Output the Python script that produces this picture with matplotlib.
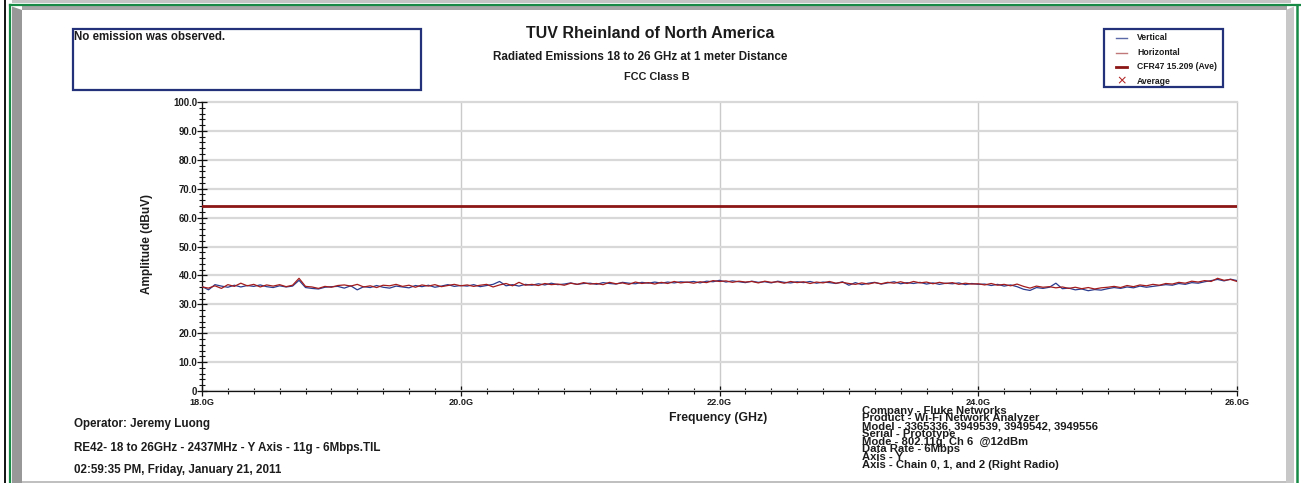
import numpy as np
import matplotlib
matplotlib.use("Agg")
import matplotlib.pyplot as plt
from matplotlib.patches import Rectangle, Polygon
from matplotlib.lines import Line2D
from matplotlib.ticker import MultipleLocator, FixedLocator

plt.rcParams['font.family'] = ['Liberation Sans', 'DejaVu Sans']

# ---------------- data ----------------
freq_start, freq_stop, n_points = 18.0, 26.0, 161
freq_ghz = np.linspace(freq_start, freq_stop, n_points)

horizontal_dbuv = [
    36.0, 35.6, 36.4, 35.5, 36.8, 36.2, 37.3, 36.4, 36.9, 36.0, 36.7,
    36.3, 36.8, 36.1, 36.6, 39.0, 36.2, 36.0, 35.5, 36.2, 35.9,
    36.5, 36.7, 36.3, 36.9, 36.0, 36.4, 35.8, 36.6, 36.4, 36.9,
    36.2, 36.6, 35.9, 36.7, 36.3, 36.8, 36.1, 36.5, 36.9, 36.4,
    36.7, 36.2, 36.6, 36.9, 36.0, 36.7, 37.2, 36.4, 37.6, 36.6,
    36.9, 36.5, 37.2, 36.8, 37.0, 36.6, 37.3, 36.9, 37.5, 37.0,
    37.2, 36.8, 37.6, 37.1, 37.4, 36.9, 37.7, 37.2, 37.5, 37.0,
    37.6, 37.2, 37.9, 37.4, 37.7, 37.3, 37.8, 37.5, 38.2, 37.9,
    38.1, 37.6, 38.0, 37.7, 37.9, 37.4, 38.0, 37.6, 37.8, 37.3,
    37.9, 37.5, 37.8, 37.2, 37.7, 37.4, 37.9, 37.3, 37.6, 37.2,
    36.9, 37.4, 37.0, 37.5, 37.1, 37.6, 37.3, 37.8, 37.2, 37.9,
    37.4, 37.7, 37.1, 37.6, 37.2, 37.5, 36.9, 37.3, 37.0, 37.1,
    36.7, 37.2, 36.6, 36.9, 36.4, 37.0, 36.2, 35.6, 36.3, 35.9,
    36.1, 35.7, 36.0, 35.5, 35.9, 35.4, 35.8, 35.3, 35.7, 35.9,
    36.2, 35.8, 36.5, 36.1, 36.7, 36.4, 36.9, 36.6, 37.2, 37.0,
    37.6, 37.3, 38.0, 37.7, 38.2, 37.9, 39.0, 38.3, 38.6, 37.9,
]

vertical_dbuv = [
    36.2, 35.0, 36.8, 36.3, 35.9, 36.6, 36.0, 36.5, 36.2, 36.7, 36.1,
    35.8, 36.4, 36.0, 36.3, 38.3, 35.8, 35.5, 35.3, 35.9, 36.1,
    36.2, 35.6, 36.4, 35.0, 36.1, 35.8, 36.5, 35.9, 35.6, 36.3,
    36.0, 35.7, 36.5, 36.1, 36.6, 35.9, 36.3, 36.8, 36.2, 36.5,
    36.3, 36.8, 36.1, 36.5, 36.9, 37.9, 36.4, 36.8, 36.3, 36.9,
    36.6, 37.1, 36.7, 37.3, 36.8, 37.0, 37.4, 36.9, 37.2, 37.3,
    36.9, 37.5, 37.2, 37.0, 37.6, 37.3, 37.1, 37.6, 37.3, 37.7,
    37.3, 37.7, 37.4, 37.8, 37.6, 37.9, 37.4, 38.0, 37.8, 38.3,
    37.7, 38.1, 37.8, 37.5, 38.0, 37.6, 37.8, 37.4, 38.0, 37.6,
    37.4, 37.8, 37.5, 37.9, 37.3, 37.7, 37.5, 37.2, 37.8, 36.6,
    37.5, 36.8, 37.3, 37.6, 37.0, 37.4, 37.8, 37.1, 37.5, 37.2,
    37.6, 37.0, 37.4, 36.9, 37.3, 37.1, 37.4, 36.8, 37.2, 36.9,
    37.0, 36.5, 36.9, 36.3, 36.7, 36.1, 35.2, 34.8, 35.8, 35.5,
    35.9, 37.3, 35.4, 35.6, 35.0, 35.3, 34.7, 35.1, 34.9, 35.4,
    35.8, 35.5, 36.0, 35.7, 36.3, 35.9, 36.2, 36.5, 36.8, 36.6,
    37.2, 36.9, 37.5, 37.3, 37.8, 38.2, 38.6, 38.1, 38.7, 38.2,
]

limit_label = "CFR47 15.209 (Ave)"
limit_dbuv = 64.0

y_ticks = [0, 10, 20, 30, 40, 50, 60, 70, 80, 90, 100]
y_tick_labels = ["0", "10.0", "20.0", "30.0", "40.0", "50.0", "60.0",
                 "70.0", "80.0", "90.0", "100.0"]
x_ticks = [18, 20, 22, 24, 26]
x_tick_labels = ["18.0G", "20.0G", "22.0G", "24.0G", "26.0G"]

title = "TUV Rheinland of North America"
subtitle = "Radiated Emissions 18 to 26 GHz at 1 meter Distance"
subtitle2 = "FCC Class B"
note = "No emission was observed."
legend_labels = ["Vertical", "Horizontal", limit_label, "Average"]
footer_left = ["Operator: Jeremy Luong",
               "RE42- 18 to 26GHz - 2437MHz - Y Axis - 11g - 6Mbps.TIL",
               "02:59:35 PM, Friday, January 21, 2011"]
footer_right = ["Company - Fluke Networks",
                "Product - Wi-Fi Network Analyzer",
                "Model - 3365336, 3949539, 3949542, 3949556",
                "Serial - Prototype",
                "Mode - 802.11g, Ch 6  @12dBm",
                "Data Rate - 6Mbps",
                "Axis - Y",
                "Axis - Chain 0, 1, and 2 (Right Radio)"]

# ---------------- figure ----------------
W, H = 1301, 483
fig = plt.figure(figsize=(W / 100, H / 100), dpi=100)
fig.patch.set_facecolor("white")

def fx(x):
    return x / W

def fy(y):
    return 1 - y / H

def rect_px(x0, y0, x1, y1, **kw):
    r = Rectangle((fx(x0), fy(y1)), (x1 - x0) / W, (y1 - y0) / H,
                  transform=fig.transFigure, **kw)
    fig.add_artist(r)
    return r

def line_px(xs, ys, **kw):
    l = Line2D([fx(x) for x in xs], [fy(y) for y in ys],
               transform=fig.transFigure, **kw)
    fig.add_artist(l)

GREEN = "#178a45"
# frame
rect_px(12, 0, 1291, 2.5, facecolor="#c4c4c4", edgecolor="none")
rect_px(22, 6.5, 1287, 10, facecolor="#a6a6a6", edgecolor="none")
fig.add_artist(Polygon([(fx(12), fy(6.5)), (fx(22), fy(10)), (fx(22), fy(483)),
                        (fx(12), fy(483))], closed=True, transform=fig.transFigure,
                       facecolor="#989898", edgecolor="none"))
fig.add_artist(Polygon([(fx(1286), fy(10)), (fx(1294), fy(6.5)), (fx(1294), fy(483)),
                        (fx(1286), fy(483))], closed=True, transform=fig.transFigure,
                       facecolor="#c8c8c8", edgecolor="none"))
rect_px(22, 480.5, 1286, 483, facecolor="#c0c0c0", edgecolor="none")
line_px([10, 1301], [4.8, 4.8], color=GREEN, lw=1.6)
line_px([10.2, 10.2], [4.8, 483], color=GREEN, lw=1.6)
line_px([1296.5, 1296.5], [4.8, 483], color=GREEN, lw=1.8)
line_px([4.5, 4.5], [0, 483], color="black", lw=1.3)

TXT = "#1c1c1c"
NAVY = "#23307a"

# titles
fig.text(fx(650), fy(34), title, ha="center", va="center", fontsize=11.5,
         fontweight="bold", color=TXT)
fig.text(fx(640), fy(57.5), subtitle, ha="center", va="center", fontsize=8.4,
         fontweight="bold", color=TXT)
fig.text(fx(657), fy(76.5), subtitle2, ha="center", va="center", fontsize=7.8,
         fontweight="bold", color=TXT)

# note box
rect_px(73, 29.5, 421, 90, facecolor="white", edgecolor=NAVY, lw=1.6)
fig.text(fx(74), fy(37.5), note, ha="left", va="center", fontsize=8.3,
         fontweight="bold", color=TXT)

# legend box
rect_px(1104, 29.5, 1223, 87, facecolor="white", edgecolor=NAVY, lw=1.6)
leg_y = [37.5, 52.5, 66.5, 81]
BLUE = "#2b3c8f"
RED = "#a41c1c"
LIMIT = "#8c1616"
line_px([1116, 1127], [leg_y[0]] * 2, color="#5a6aa8", lw=1.0)
line_px([1116, 1127], [leg_y[1]] * 2, color="#c07878", lw=1.0)
line_px([1116, 1127], [leg_y[2]] * 2, color=LIMIT, lw=2.0)
fig.text(fx(1121.5), fy(leg_y[3]), "\u00d7", ha="center", va="center",
         fontsize=9, color="#b02020", family="DejaVu Sans")
for yy, lab in zip(leg_y, legend_labels):
    fig.text(fx(1137), fy(yy), lab, ha="left", va="center", fontsize=6.2,
             fontweight="bold", color=TXT)

# ---------------- axes ----------------
ax = fig.add_axes([fx(202), fy(391), (1237 - 202) / W, (391 - 102) / H])
ax.set_facecolor("white")
ax.plot(freq_ghz, vertical_dbuv, color=BLUE, lw=0.9, zorder=3)
ax.plot(freq_ghz, horizontal_dbuv, color=RED, lw=0.9, zorder=4)
ax.axhline(limit_dbuv, color=LIMIT, lw=2.0, zorder=5)

ax.set_xlim(freq_start, freq_stop)
ax.set_ylim(0, 100)
ax.yaxis.set_major_locator(FixedLocator(y_ticks))
ax.set_yticklabels(y_tick_labels)
ax.yaxis.set_minor_locator(MultipleLocator(2))
ax.xaxis.set_major_locator(FixedLocator(x_ticks))
ax.set_xticklabels(x_tick_labels)
ax.xaxis.set_minor_locator(MultipleLocator(0.2))

for s in ["top", "right"]:
    ax.spines[s].set_visible(False)
for s in ["left", "bottom"]:
    ax.spines[s].set_color("#111111")
    ax.spines[s].set_linewidth(0.9)

ax.yaxis.grid(True, which="major", color="#d8d8d8", lw=1.6, zorder=0)
ax.xaxis.grid(True, which="major", color="#cacaca", lw=1.0, zorder=0)
for gl in ax.get_xgridlines() + ax.get_ygridlines():
    gl.set_clip_on(False)
ax.set_axisbelow(True)

ax.tick_params(axis="both", which="major", direction="inout", length=7,
               width=0.9, color="#111111", labelcolor=TXT)
ax.tick_params(axis="both", which="minor", direction="inout", length=5,
               width=0.8, color="#111111")
ax.tick_params(axis="y", which="major", pad=0, labelsize=6.9)
ax.tick_params(axis="x", which="major", pad=1.2, labelsize=6.6)
for lab in ax.get_xticklabels() + ax.get_yticklabels():
    lab.set_fontweight("bold")

fig.text(fx(147), fy(244), "Amplitude (dBuV)", rotation=90, ha="center",
         va="center", fontsize=8.5, fontweight="bold", color=TXT)
fig.text(fx(718), fy(417.5), "Frequency (GHz)", ha="center", va="center",
         fontsize=8.8, fontweight="bold", color=TXT)

# footers
for yy, t in zip([423.5, 448, 469.5], footer_left):
    fig.text(fx(74), fy(yy), t, ha="left", va="center", fontsize=8.4,
             fontweight="bold", color=TXT)
# the reference stacks these lines tightly (they touch each other)
for i, t in enumerate(footer_right):
    fig.text(fx(862), fy(410.5 + i * 7.8), t, ha="left", va="center",
             fontsize=8.1, fontweight="bold", color=TXT)

fig.savefig("out.png", dpi=100, facecolor="white")
